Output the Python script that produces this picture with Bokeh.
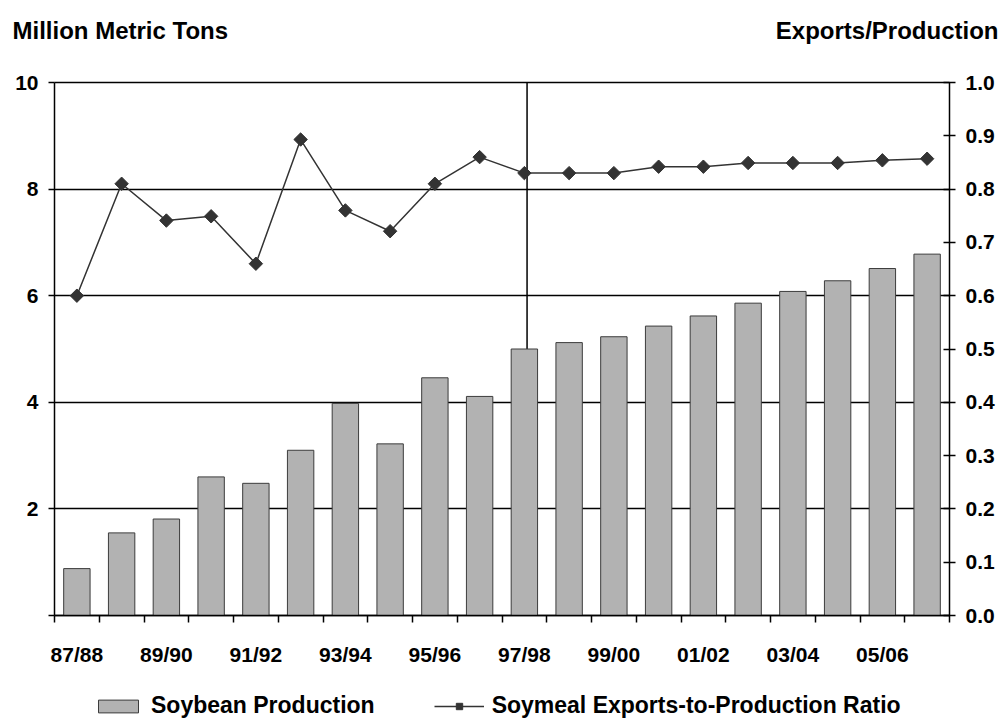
import math
from bokeh.plotting import figure
from bokeh.models import (Range1d, LinearAxis, FixedTicker, Legend, LegendItem, Label,
                          NumeralTickFormatter)
from bokeh.embed import file_html
from bokeh.resources import INLINE

# ---- data ----
seasons = ["87/88", "88/89", "89/90", "90/91", "91/92", "92/93", "93/94", "94/95",
           "95/96", "96/97", "97/98", "98/99", "99/00", "00/01", "01/02", "02/03",
           "03/04", "04/05", "05/06", "06/07"]
production = [0.88, 1.55, 1.81, 2.60, 2.48, 3.10, 3.98, 3.22, 4.46, 4.11,
              5.00, 5.12, 5.23, 5.43, 5.62, 5.86, 6.08, 6.28, 6.51, 6.78]
ratio = [0.600, 0.810, 0.741, 0.749, 0.660, 0.893, 0.760, 0.721, 0.810, 0.860,
         0.830, 0.830, 0.830, 0.842, 0.842, 0.849, 0.849, 0.849, 0.854, 0.857]
left_ticks = [0, 2, 4, 6, 8, 10]
right_ticks = [0.0, 0.1, 0.2, 0.3, 0.4, 0.5, 0.6, 0.7, 0.8, 0.9, 1.0]
left_title = "Million Metric Tons"
right_title = "Exports/Production"
bar_name = "Soybean Production"
line_name = "Soymeal Exports-to-Production Ratio"
divider_season = "97/98"

FONT = "Liberation Sans"
W, H = 1000, 720
AX_L, AX_R = 54, 949              # pixel columns of the two value axes
AX_T, AXIS_Y = 82, 615            # pixel rows of the value maximum and of 0
Y_MAX, R_MAX = 10, 1.0
BAR_FILL = "#b2b2b2"
BAR_LINE = "#3c3c3c"
LINE_COL = "#333333"
n = len(seasons)
xs = [i + 0.5 for i in range(n)]

# The frame covers the whole canvas so that nothing drawn in it (tick labels,
# captions, legend) is clipped; the axes are pinned at the data edges and bounded.
px_per_cat = (AX_R - AX_L) / n
px_per_unit = (AXIS_Y - AX_T) / Y_MAX
x_lo = -AX_L / px_per_cat
x_hi = n + (W - AX_R) / px_per_cat
y_lo = -(H - AXIS_Y) / px_per_unit
y_hi = Y_MAX + AX_T / px_per_unit

p = figure(width=W, height=H, x_range=Range1d(x_lo, x_hi), y_range=Range1d(y_lo, y_hi),
           output_backend="svg", toolbar_location=None, min_border=0)
p.extra_y_ranges = {"ratio": Range1d(y_lo * R_MAX / Y_MAX, y_hi * R_MAX / Y_MAX)}
p.outline_line_color = None

xa = p.xaxis[0]
ya = p.yaxis[0]

p.xgrid.visible = False
grid = p.ygrid[0]
grid.ticker = FixedTicker(ticks=left_ticks)
grid.grid_line_color = "black"
grid.grid_line_width = 1.5
use_ticks_as_grid = "cross_bounds" not in grid.properties()
if use_ticks_as_grid:
    grid.visible = False
    ya.level = "underlay"
else:
    grid.cross_bounds = (0, n)

# bottom category axis: tick marks at boundaries, labels on every other season
xa.fixed_location = 0
xa.bounds = (0, n)
xa.ticker = FixedTicker(ticks=xs[::2], minor_ticks=list(range(n + 1)))
xa.major_label_overrides = {xs[i]: seasons[i] for i in range(0, n, 2)}
xa.major_tick_in = 0
xa.major_tick_out = 0
xa.minor_tick_in = 0
xa.minor_tick_out = 7
xa.minor_tick_line_color = "black"
xa.minor_tick_line_width = 1.5
xa.axis_line_width = 1.5
xa.major_label_standoff = 20

ya.fixed_location = 0
ya.bounds = (0, Y_MAX)
ya.ticker = FixedTicker(ticks=left_ticks)
ya.major_label_overrides = {0: ""}
ya.major_tick_in = (AX_R - AX_L) if use_ticks_as_grid else 0
ya.major_tick_out = 6
ya.minor_tick_line_color = None
ya.axis_line_width = 1.5
ya.major_tick_line_width = 1.5
ya.major_label_standoff = 10

ra = LinearAxis(y_range_name="ratio", ticker=FixedTicker(ticks=right_ticks),
                formatter=NumeralTickFormatter(format="0.0"), bounds=(0, R_MAX),
                fixed_location=n)
ra.major_tick_in = 6
ra.major_tick_out = 6
ra.minor_tick_line_color = None
ra.axis_line_width = 1.5
ra.major_tick_line_width = 1.5
ra.major_label_standoff = 10
p.add_layout(ra, "right")

for ax in (xa, ya, ra):
    ax.major_label_text_font = FONT
    ax.major_label_text_font_style = "bold"
    ax.major_label_text_font_size = "21px"
    ax.major_label_text_color = "black"
    ax.axis_line_color = "black"
    ax.major_tick_line_color = "black"

# unit captions above the plot area, left and right
cap_y = (AXIS_Y - 30) / px_per_unit
for txt, px, align in ((left_title, 12, "left"), (right_title, 998, "right")):
    p.add_layout(Label(x=(px - AX_L) / px_per_cat, y=cap_y, text=txt,
                       text_font=FONT, text_font_style="bold", text_font_size="24px",
                       text_align=align, text_baseline="alphabetic", text_color="black"))

# divider between history and projections (behind the bars)
vx = seasons.index(divider_season) + 0.56
p.segment(x0=[vx], y0=[0], x1=[vx], y1=[Y_MAX], line_color="black", line_width=1.5)

bars = p.vbar(x=xs, top=production, bottom=0, width=0.59,
              fill_color=BAR_FILL, line_color=BAR_LINE, line_width=1)
line = p.line(xs, ratio, y_range_name="ratio", line_color=LINE_COL, line_width=1.5)
pts = p.scatter(xs, ratio, y_range_name="ratio", marker="square", angle=math.pi / 4,
                size=9.5, fill_color=LINE_COL, line_color=LINE_COL)

legend = Legend(items=[LegendItem(label=bar_name, renderers=[bars]),
                       LegendItem(label=line_name, renderers=[line, pts])],
                orientation="horizontal", location=(93, 1),
                glyph_width=50, glyph_height=16, label_standoff=8, spacing=59,
                padding=0, margin=0, border_line_color=None, background_fill_alpha=0,
                label_text_font=FONT, label_text_font_style="bold",
                label_text_font_size="23px", label_text_color="black")
p.add_layout(legend)

open("out.html", "w").write(file_html(p, INLINE))
